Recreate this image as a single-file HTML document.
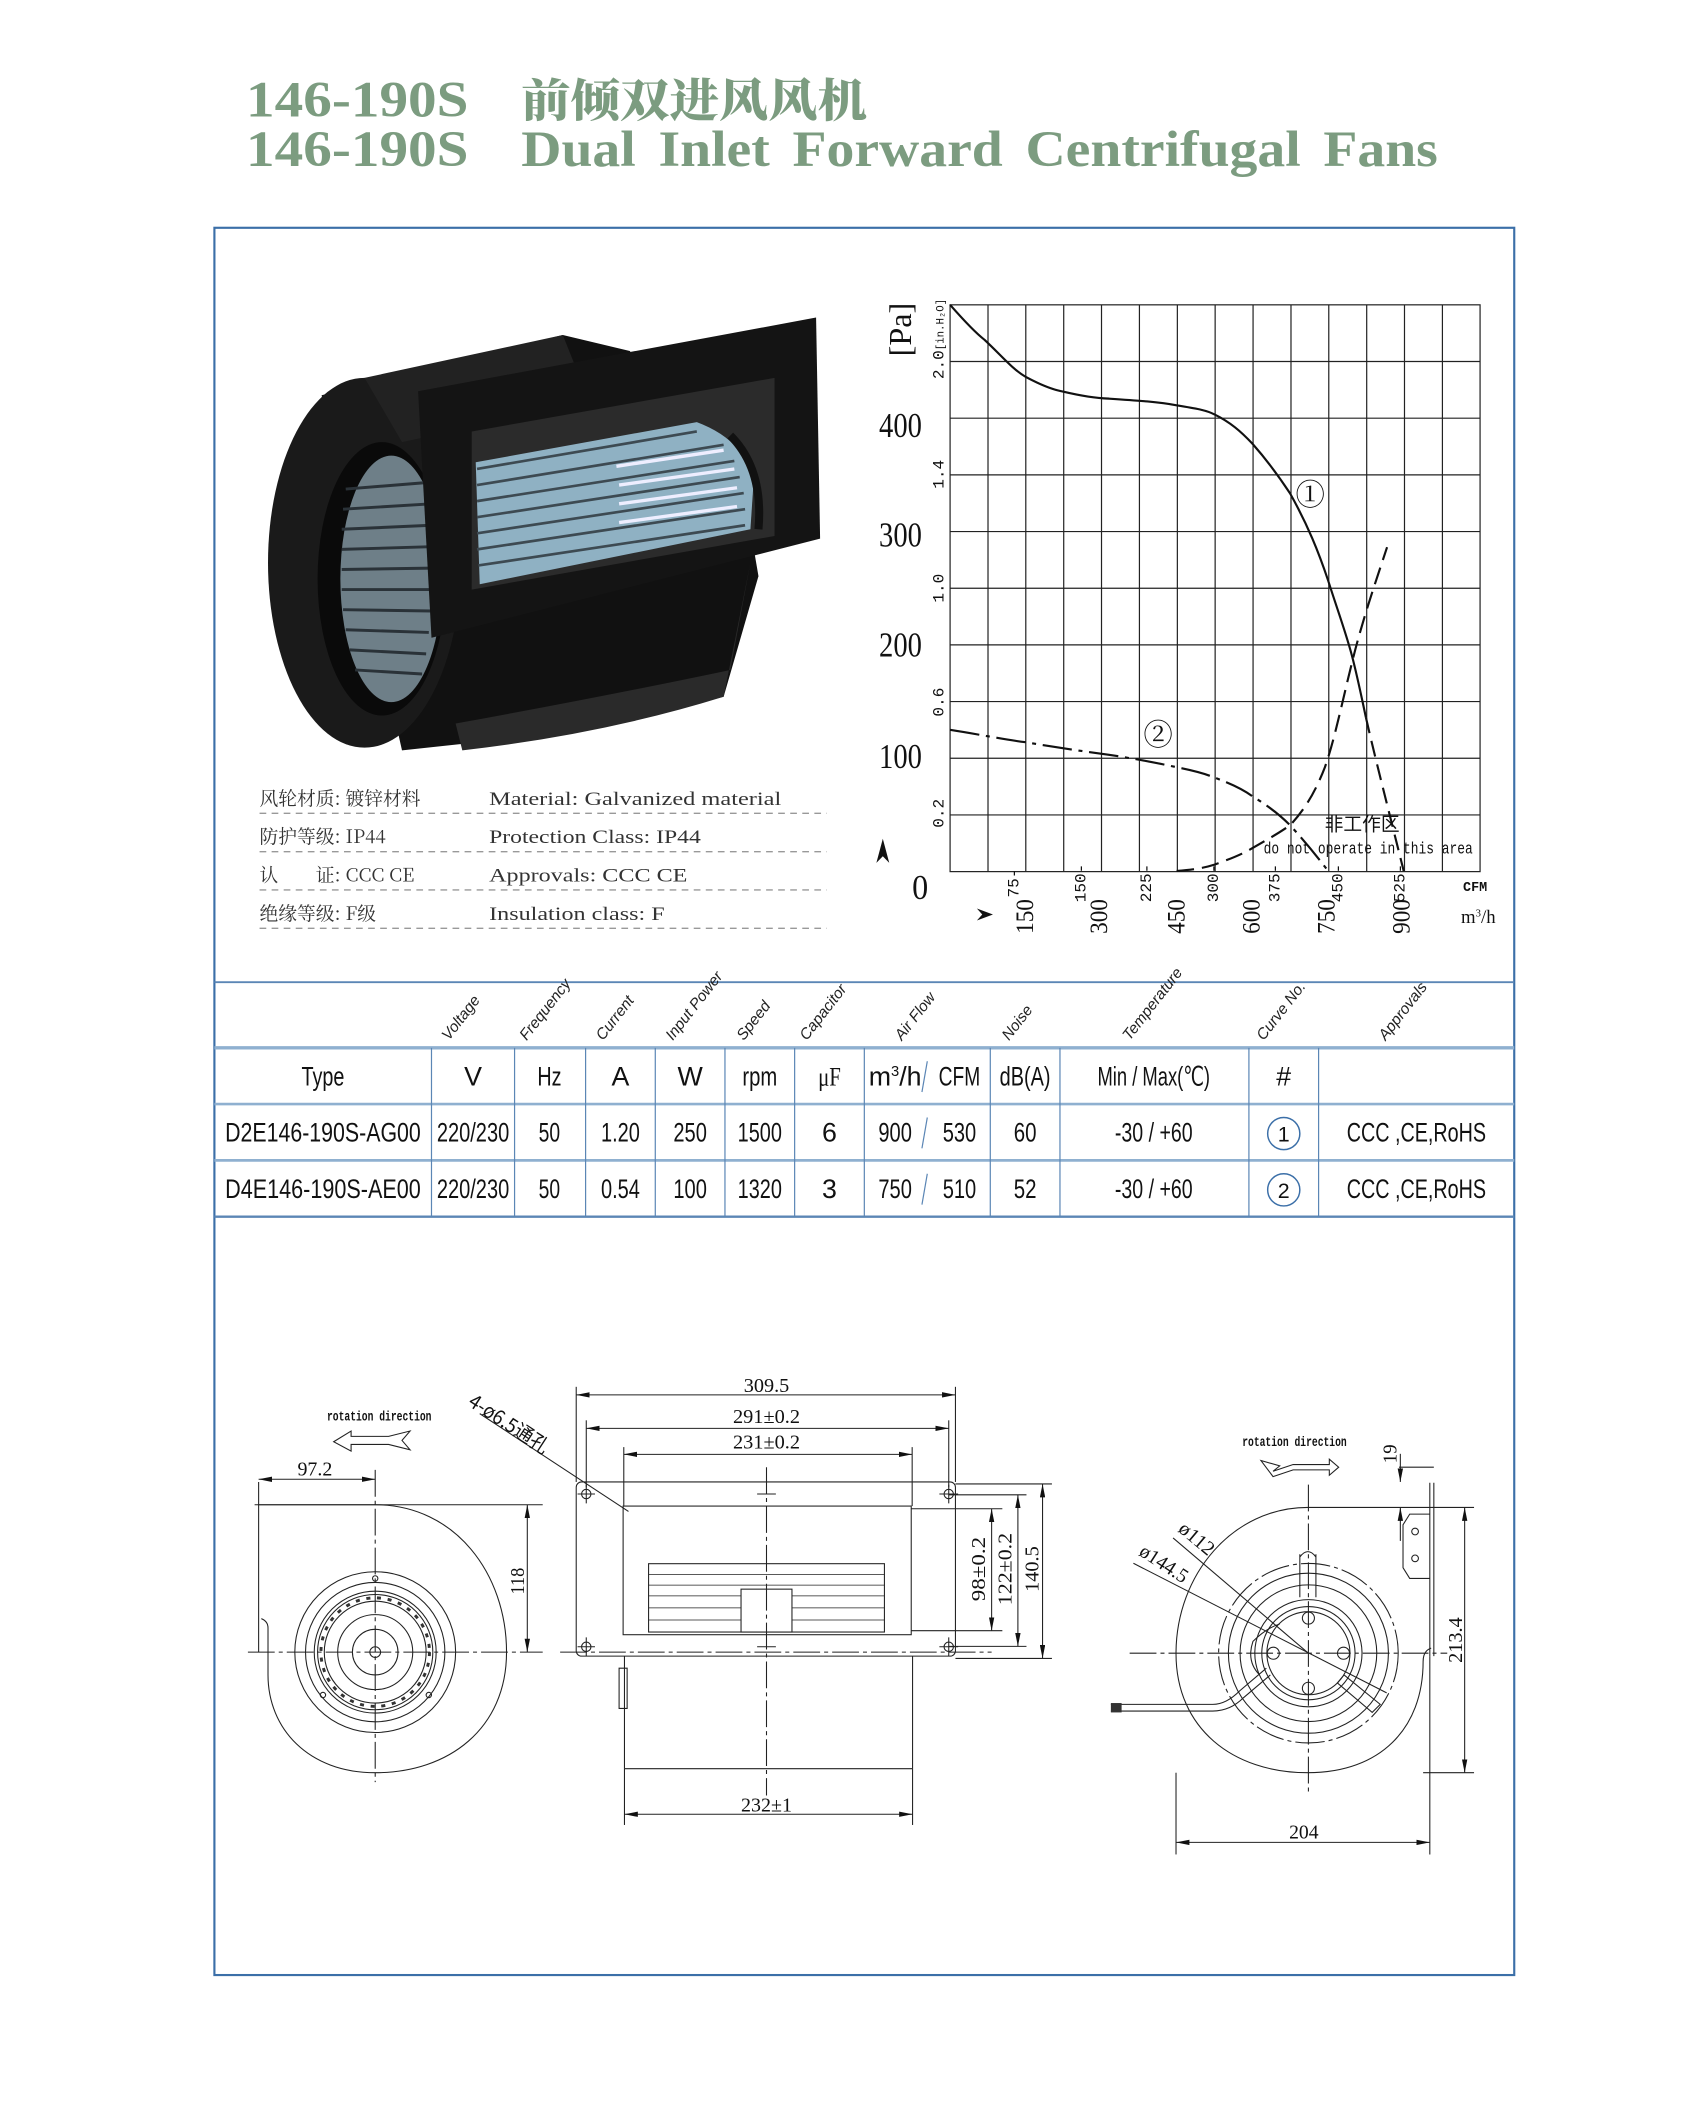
<!DOCTYPE html>
<html><head><meta charset="utf-8"><style>
html,body{margin:0;padding:0;background:#fff;}
svg{display:block;}
.t{font-family:"Liberation Sans Narrow","Liberation Sans",sans-serif;}
.s{font-family:"Liberation Serif","Noto Serif CJK SC",serif;}
.m{font-family:"Liberation Mono","Noto Sans CJK SC",monospace;}
</style></head><body>
<svg width="1693" height="2101" viewBox="0 0 1263.4 1568" preserveAspectRatio="none" xmlns="http://www.w3.org/2000/svg">
<rect x="0" y="0" width="1263.4" height="1568" fill="#fff"/>
<!-- Title -->
<g fill="#7c9c80" font-weight="bold">
<text class="s" x="183.6" y="87" font-size="38" textLength="166" lengthAdjust="spacingAndGlyphs">146-190S</text>
<text x="389" y="87" font-size="34" font-family="'Noto Serif CJK SC','Noto Sans CJK SC',serif" font-weight="900" textLength="258" lengthAdjust="spacingAndGlyphs">前倾双进风风机</text>
<text class="s" x="183.6" y="124" font-size="38" textLength="166" lengthAdjust="spacingAndGlyphs">146-190S</text>
<text class="s" x="389" y="124" font-size="38" textLength="684" lengthAdjust="spacingAndGlyphs" word-spacing="6">Dual  Inlet  Forward  Centrifugal  Fans</text>
</g>
<!-- Frame -->
<rect x="160" y="170" width="970" height="1304" fill="none" stroke="#3b6fa8" stroke-width="1.6"/>

<!-- Photo -->
<g>
<path d="M240,295 L420,250 L470,262 L560,395 L566,430 L540,520 L440,545 L300,560 Z" fill="#111"/>
<ellipse cx="272" cy="420" rx="72" ry="138" fill="#1a1a1a"/>
<path d="M272,282 L420,250 L440,300 L300,330 Z" fill="#222"/>
<path d="M340,540 Q450,520 545,500 L560,420 L540,520 Q450,548 345,560 Z" fill="#2a2a2a"/>
<ellipse cx="285" cy="432" rx="48" ry="102" fill="#0a0a0a"/>
<ellipse cx="292" cy="432" rx="38" ry="92" fill="#6e7f88"/>
<g stroke="#2a3238" stroke-width="2.2">
<line x1="258" y1="365" x2="320" y2="360"/><line x1="256" y1="380" x2="322" y2="376"/><line x1="255" y1="395" x2="322" y2="392"/><line x1="255" y1="410" x2="322" y2="408"/><line x1="255" y1="425" x2="322" y2="424"/><line x1="255" y1="440" x2="322" y2="440"/><line x1="256" y1="455" x2="322" y2="456"/><line x1="258" y1="470" x2="320" y2="472"/><line x1="261" y1="485" x2="318" y2="488"/><line x1="265" y1="500" x2="315" y2="503"/>
</g>
<path d="M312,292 L609,237 L612,402 L322,476 Z" fill="#141414"/>
<path d="M352,322 L578,282 L578,400 L352,440 Z" fill="#2b2b2b"/>
<path d="M355,345 L520,315 Q560,330 562,365 L560,395 L358,436 Z" fill="#8fb1c3"/>
<g stroke="#3d4a52" stroke-width="2">
<line x1="356" y1="350" x2="520" y2="322"/><line x1="356" y1="362" x2="540" y2="332"/><line x1="356" y1="374" x2="548" y2="344"/><line x1="356" y1="386" x2="552" y2="356"/><line x1="356" y1="398" x2="555" y2="368"/><line x1="356" y1="410" x2="556" y2="380"/><line x1="357" y1="422" x2="556" y2="392"/>
</g>
<g stroke="#eef" stroke-width="2.5"><line x1="460" y1="348" x2="540" y2="336"/><line x1="462" y1="362" x2="548" y2="350"/><line x1="462" y1="376" x2="550" y2="364"/><line x1="462" y1="390" x2="550" y2="378"/></g>
<path d="M545,325 Q570,350 566,395" stroke="#111" stroke-width="6" fill="none"/>
</g>

<!-- Specs -->
<g font-size="14" fill="#333">
<text x="193.7" y="600.7" font-family="'Noto Serif CJK SC','Liberation Serif',serif">风轮材质: 镀锌材料</text>
<text class="s" x="365" y="600.7" textLength="218" lengthAdjust="spacingAndGlyphs">Material: Galvanized material</text>
<text x="193.7" y="629.3" font-family="'Noto Serif CJK SC','Liberation Serif',serif">防护等级: IP44</text>
<text class="s" x="365" y="629.3" textLength="158" lengthAdjust="spacingAndGlyphs">Protection Class: IP44</text>
<text x="193.7" y="658" font-family="'Noto Serif CJK SC','Liberation Serif',serif">认　　证: CCC CE</text>
<text class="s" x="365" y="658" textLength="148" lengthAdjust="spacingAndGlyphs">Approvals: CCC  CE</text>
<text x="193.7" y="686.6" font-family="'Noto Serif CJK SC','Liberation Serif',serif">绝缘等级: F级</text>
<text class="s" x="365" y="686.6" textLength="131" lengthAdjust="spacingAndGlyphs">Insulation class: F</text>
</g>
<g stroke="#999" stroke-dasharray="5,4" stroke-width="1">
<line x1="193.7" y1="607" x2="617" y2="607"/><line x1="193.7" y1="635.6" x2="617" y2="635.6"/><line x1="193.7" y1="664.2" x2="617" y2="664.2"/><line x1="193.7" y1="692.8" x2="617" y2="692.8"/>
</g>

<!-- Chart -->
<g stroke="#222" stroke-width="0.9">
<rect x="709" y="227.5" width="395.5" height="423" fill="none"/>
<line x1="737.3" y1="227.5" x2="737.3" y2="650.5"/><line x1="765.5" y1="227.5" x2="765.5" y2="650.5"/><line x1="793.8" y1="227.5" x2="793.8" y2="650.5"/><line x1="822" y1="227.5" x2="822" y2="650.5"/><line x1="850.3" y1="227.5" x2="850.3" y2="650.5"/><line x1="878.6" y1="227.5" x2="878.6" y2="650.5"/><line x1="906.8" y1="227.5" x2="906.8" y2="650.5"/><line x1="935.1" y1="227.5" x2="935.1" y2="650.5"/><line x1="963.4" y1="227.5" x2="963.4" y2="650.5"/><line x1="991.6" y1="227.5" x2="991.6" y2="650.5"/><line x1="1019.9" y1="227.5" x2="1019.9" y2="650.5"/><line x1="1048.1" y1="227.5" x2="1048.1" y2="650.5"/><line x1="1076.4" y1="227.5" x2="1076.4" y2="650.5"/>
<line x1="709" y1="269.8" x2="1104.5" y2="269.8"/><line x1="709" y1="312.1" x2="1104.5" y2="312.1"/><line x1="709" y1="354.4" x2="1104.5" y2="354.4"/><line x1="709" y1="396.7" x2="1104.5" y2="396.7"/><line x1="709" y1="439" x2="1104.5" y2="439"/><line x1="709" y1="481.3" x2="1104.5" y2="481.3"/><line x1="709" y1="523.6" x2="1104.5" y2="523.6"/><line x1="709" y1="565.9" x2="1104.5" y2="565.9"/><line x1="709" y1="608.2" x2="1104.5" y2="608.2"/>
</g>
<g fill="none" stroke="#111" stroke-width="1.6">
<path d="M709,227.5 C720,240 730,250 734.7,253.6 C748,266 756,276 765.7,281.4 C778,288 786,291 793.6,292.3 C805,295 815,297 827.6,297.5 C850,299 865,300 878,302.5 C893,305 900,306 906.3,309.3 C918,315 926,322 934.5,331 C946,344 954,355 962.7,368.2 C976,392 984,412 991.1,433.2 C998,455 1004,471 1008.8,489 C1013,505 1016,520 1019.3,535.4"/>
<path d="M1019.3,535.4 C1024,556 1028,572 1032,588 C1038,612 1043,632 1047.5,650" stroke-dasharray="12,6"/>
<path d="M709,544.7 C730,548 750,552 765.7,554 C790,558 810,561 827.6,563.3 C845,566 862,569 878,572.6 C890,575 898,577 906.3,580.3 C916,584 926,588 934.5,594.2 C944,600 954,607 962.7,615.9 C972,626 982,638 991.1,650" stroke-dasharray="22,5,3,5"/>
<path d="M878,650 C890,649 898,648 906.3,645.3 C918,641 926,638 934.5,633 C945,627 954,622 962.7,615.9 C974,604 982,590 988.7,572.6 C996,552 1002,522 1008.8,495.1 C1016,465 1026,436 1035.1,408.4" stroke-dasharray="13,6"/>
</g>
<g class="s" fill="#111">
<text x="977.8" y="377" font-size="22" text-anchor="middle">①</text>
<text x="864.2" y="556" font-size="22" text-anchor="middle">②</text>
<text x="1016.5" y="620" font-size="14" text-anchor="middle" font-family="'Noto Sans CJK SC',sans-serif">非工作区</text>
<text class="m" x="1021" y="637" font-size="12.5" text-anchor="middle" textLength="156" lengthAdjust="spacingAndGlyphs">do not operate in this area</text>
<g font-size="26" text-anchor="middle">
<text x="672" y="326" textLength="32" lengthAdjust="spacingAndGlyphs">400</text>
<text x="672" y="408" textLength="32" lengthAdjust="spacingAndGlyphs">300</text>
<text x="672" y="490" textLength="32" lengthAdjust="spacingAndGlyphs">200</text>
<text x="672" y="573" textLength="32" lengthAdjust="spacingAndGlyphs">100</text>
<text x="686.7" y="671" textLength="12" lengthAdjust="spacingAndGlyphs">0</text>
</g>
<text transform="translate(680,246) rotate(-90)" font-size="24" text-anchor="middle">[Pa]</text>
<g class="m" font-size="12">
<text transform="translate(704,253) rotate(-90)" text-anchor="middle">2.0<tspan font-size="8">[in.H₂O]</tspan></text>
<text transform="translate(704,354) rotate(-90)" text-anchor="middle">1.4</text>
<text transform="translate(704,439) rotate(-90)" text-anchor="middle">1.0</text>
<text transform="translate(704,524) rotate(-90)" text-anchor="middle">0.6</text>
<text transform="translate(704,607) rotate(-90)" text-anchor="middle">0.2</text>
<text transform="translate(760,659) rotate(-90)" text-anchor="middle">75-</text>
<text transform="translate(810,659) rotate(-90)" text-anchor="middle">150-</text>
<text transform="translate(859,659) rotate(-90)" text-anchor="middle">225-</text>
<text transform="translate(909,659) rotate(-90)" text-anchor="middle">300-</text>
<text transform="translate(955,659) rotate(-90)" text-anchor="middle">375-</text>
<text transform="translate(1002,659) rotate(-90)" text-anchor="middle">450-</text>
<text transform="translate(1048,659) rotate(-90)" text-anchor="middle">525-</text>
</g>
<g font-size="19" class="s">
<text transform="translate(771,684) rotate(-90)" text-anchor="middle" textLength="26" lengthAdjust="spacingAndGlyphs">150</text>
<text transform="translate(826,684) rotate(-90)" text-anchor="middle" textLength="26" lengthAdjust="spacingAndGlyphs">300</text>
<text transform="translate(884,684) rotate(-90)" text-anchor="middle" textLength="26" lengthAdjust="spacingAndGlyphs">450</text>
<text transform="translate(940,684) rotate(-90)" text-anchor="middle" textLength="26" lengthAdjust="spacingAndGlyphs">600</text>
<text transform="translate(996,684) rotate(-90)" text-anchor="middle" textLength="26" lengthAdjust="spacingAndGlyphs">750</text>
<text transform="translate(1052,684) rotate(-90)" text-anchor="middle" textLength="26" lengthAdjust="spacingAndGlyphs">900</text>
</g>
<text class="m" x="1100.8" y="665" font-size="10" text-anchor="middle" font-weight="bold">CFM</text>
<text class="s" x="1103.2" y="689" font-size="14" text-anchor="middle">m<tspan font-size="8" dy="-5">3</tspan><tspan dy="5">/h</tspan></text>
</g>
<path d="M729,678 L741,682.5 L729,687 L733,682.5 Z" fill="#111"/>
<path d="M654,644 L658.8,626 L663.6,644 L658.8,639 Z" fill="#111"/>

<!-- Table -->
<g stroke="#5b86b5" stroke-width="1.4">
<line x1="160" y1="733" x2="1130" y2="733"/>
<line x1="160" y1="782" x2="1130" y2="782" stroke="#8fb0d0" stroke-width="2.5"/>
<line x1="160" y1="824" x2="1130" y2="824" stroke="#8fb0d0" stroke-width="2"/>
<line x1="160" y1="866" x2="1130" y2="866" stroke="#8fb0d0" stroke-width="2"/>
<line x1="160" y1="908" x2="1130" y2="908" stroke-width="1.8"/>
</g>
<g stroke="#5b86b5" stroke-width="0.9">
<line x1="322" y1="782" x2="322" y2="908"/><line x1="384" y1="782" x2="384" y2="908"/><line x1="437" y1="782" x2="437" y2="908"/><line x1="489" y1="782" x2="489" y2="908"/><line x1="541" y1="782" x2="541" y2="908"/><line x1="593" y1="782" x2="593" y2="908"/><line x1="645" y1="782" x2="645" y2="908"/><line x1="739" y1="782" x2="739" y2="908"/><line x1="791" y1="782" x2="791" y2="908"/><line x1="932" y1="782" x2="932" y2="908"/><line x1="984" y1="782" x2="984" y2="908"/>
<line x1="688" y1="815" x2="692" y2="792"/><line x1="688" y1="857" x2="692" y2="834"/><line x1="688" y1="899" x2="692" y2="876"/>
</g>
<g class="t" font-size="11.5" font-style="italic" fill="#222">
<text transform="translate(335,777) rotate(-52)">Voltage</text>
<text transform="translate(393,777) rotate(-52)">Frequency</text>
<text transform="translate(450,777) rotate(-52)">Current</text>
<text transform="translate(502,777) rotate(-52)">Input Power</text>
<text transform="translate(555,777) rotate(-52)">Speed</text>
<text transform="translate(602,777) rotate(-52)">Capacitor</text>
<text transform="translate(673,777) rotate(-52)">Air Flow</text>
<text transform="translate(753,777) rotate(-52)">Noise</text>
<text transform="translate(843,777) rotate(-52)">Temperature</text>
<text transform="translate(943,777) rotate(-52)">Curve No.</text>
<text transform="translate(1034,777) rotate(-52)">Approvals</text>
</g>
<g class="t" font-size="20" fill="#111" text-anchor="middle">
<text x="241" y="810" textLength="32" lengthAdjust="spacingAndGlyphs">Type</text><text x="353" y="810">V</text><text x="410" y="810" textLength="18" lengthAdjust="spacingAndGlyphs">Hz</text><text x="463" y="810">A</text><text x="515" y="810">W</text><text x="567" y="810" textLength="26" lengthAdjust="spacingAndGlyphs">rpm</text><text x="619" y="810" font-family="'Liberation Serif',serif" textLength="17" lengthAdjust="spacingAndGlyphs">μF</text>
<text x="668" y="810">m<tspan font-size="11" dy="-7">3</tspan><tspan dy="7">/h</tspan></text><text x="716" y="810" textLength="31" lengthAdjust="spacingAndGlyphs">CFM</text><text x="765" y="810" textLength="38" lengthAdjust="spacingAndGlyphs">dB(A)</text><text x="861" y="810" textLength="84" lengthAdjust="spacingAndGlyphs">Min / Max(℃)</text><text x="958" y="810">#</text>
<text x="241" y="852" textLength="146" lengthAdjust="spacingAndGlyphs">D2E146-190S-AG00</text><text x="353" y="852" textLength="54" lengthAdjust="spacingAndGlyphs">220/230</text><text x="410" y="852" textLength="16" lengthAdjust="spacingAndGlyphs">50</text><text x="463" y="852" textLength="29" lengthAdjust="spacingAndGlyphs">1.20</text><text x="515" y="852" textLength="25" lengthAdjust="spacingAndGlyphs">250</text><text x="567" y="852" textLength="33" lengthAdjust="spacingAndGlyphs">1500</text><text x="619" y="852">6</text><text x="668" y="852" textLength="25" lengthAdjust="spacingAndGlyphs">900</text><text x="716" y="852" textLength="25" lengthAdjust="spacingAndGlyphs">530</text><text x="765" y="852" textLength="17" lengthAdjust="spacingAndGlyphs">60</text><text x="861" y="852" textLength="58" lengthAdjust="spacingAndGlyphs">-30 / +60</text><text x="958" y="852" font-size="16">1</text><text x="1057" y="852" textLength="104" lengthAdjust="spacingAndGlyphs">CCC ,CE,RoHS</text>
<text x="241" y="894" textLength="146" lengthAdjust="spacingAndGlyphs">D4E146-190S-AE00</text><text x="353" y="894" textLength="54" lengthAdjust="spacingAndGlyphs">220/230</text><text x="410" y="894" textLength="16" lengthAdjust="spacingAndGlyphs">50</text><text x="463" y="894" textLength="29" lengthAdjust="spacingAndGlyphs">0.54</text><text x="515" y="894" textLength="25" lengthAdjust="spacingAndGlyphs">100</text><text x="567" y="894" textLength="33" lengthAdjust="spacingAndGlyphs">1320</text><text x="619" y="894">3</text><text x="668" y="894" textLength="25" lengthAdjust="spacingAndGlyphs">750</text><text x="716" y="894" textLength="25" lengthAdjust="spacingAndGlyphs">510</text><text x="765" y="894" textLength="17" lengthAdjust="spacingAndGlyphs">52</text><text x="861" y="894" textLength="58" lengthAdjust="spacingAndGlyphs">-30 / +60</text><text x="958" y="894" font-size="16">2</text><text x="1057" y="894" textLength="104" lengthAdjust="spacingAndGlyphs">CCC ,CE,RoHS</text>
</g>
<circle cx="958" cy="846" r="12" fill="none" stroke="#3b6fa8" stroke-width="1.1"/>
<circle cx="958" cy="888" r="12" fill="none" stroke="#3b6fa8" stroke-width="1.1"/>

<!-- Drawings -->
<defs>
<marker id="a" viewBox="0 0 10 4" refX="10" refY="2" markerWidth="10" markerHeight="4" orient="auto-start-reverse" markerUnits="userSpaceOnUse"><path d="M0,0 L10,2 L0,4 Z" fill="#111"/></marker>
</defs>
<g fill="none" stroke="#222" stroke-width="0.8">
<path d="M193,1106 V1233"/>
<path d="M193,1123 H280 C340,1123 378,1175 378,1233 C378,1290 335,1323 280,1323 C230,1323 200,1290 200,1250 V1215 Q200,1210 195,1208"/>
<line x1="190" y1="1123" x2="405" y2="1123"/>
<line x1="280" y1="1097" x2="280" y2="1330" stroke-dasharray="20,3,3,3"/>
<line x1="185" y1="1233" x2="405" y2="1233" stroke-dasharray="20,3,3,3"/>
<circle cx="280" cy="1233" r="60"/><circle cx="280" cy="1233" r="52"/><circle cx="280" cy="1233" r="45.5"/><circle cx="280" cy="1233" r="43"/><circle cx="280" cy="1233" r="38"/><circle cx="280" cy="1233" r="28"/><circle cx="280" cy="1233" r="17"/><circle cx="280" cy="1233" r="4"/>
<circle cx="280" cy="1178" r="2"/><circle cx="241" cy="1265" r="2"/><circle cx="320" cy="1265" r="2"/>
<g stroke-width="2.2" stroke="#333"><circle cx="280" cy="1233" r="40.5" stroke-dasharray="3,5"/></g>
<line x1="193" y1="1104" x2="280" y2="1104" marker-start="url(#a)" marker-end="url(#a)"/>
<line x1="393.5" y1="1123" x2="393.5" y2="1233" marker-start="url(#a)" marker-end="url(#a)"/>
<path d="M249,1076 L262,1068 V1072 H290 L306,1068 L300,1075 L306,1082 L290,1078 H262 V1083 Z"/>
<rect x="430" y="1106" width="283" height="130" rx="4"/>
<rect x="465" y="1124" width="215" height="96"/>
<rect x="484" y="1167" width="176" height="51"/>
<g stroke-width="0.6"><line x1="484" y1="1175" x2="660" y2="1175"/><line x1="484" y1="1183" x2="660" y2="1183"/><line x1="484" y1="1191" x2="660" y2="1191"/><line x1="484" y1="1200" x2="660" y2="1200"/><line x1="484" y1="1209" x2="660" y2="1209"/></g>
<rect x="553" y="1186" width="38" height="32" fill="#fff"/>
<line x1="466" y1="1236" x2="466" y2="1320"/><line x1="681" y1="1236" x2="681" y2="1320"/><line x1="466" y1="1320" x2="681" y2="1320"/>
<line x1="572" y1="1095" x2="572" y2="1340" stroke-dasharray="20,3,3,3"/>
<line x1="418" y1="1233" x2="740" y2="1233" stroke-dasharray="20,3,3,3"/>
<circle cx="437.5" cy="1115" r="3.5"/><circle cx="708" cy="1115" r="3.5"/><circle cx="437.5" cy="1229" r="3.5"/><circle cx="708" cy="1229" r="3.5"/>
<path d="M431,1115 h13 M437.5,1108 v14 M701,1115 h14 M708,1108 v14 M431,1229 h13 M437.5,1222 v14 M701,1229 h14 M708,1222 v14 M565,1115 h14 M565,1229 h14"/>
<line x1="430" y1="1035" x2="430" y2="1106"/><line x1="713" y1="1035" x2="713" y2="1106"/>
<line x1="437.5" y1="1060" x2="437.5" y2="1110"/><line x1="708" y1="1060" x2="708" y2="1110"/>
<line x1="465.5" y1="1080" x2="465.5" y2="1124"/><line x1="680.7" y1="1080" x2="680.7" y2="1124"/>
<line x1="430" y1="1041" x2="713" y2="1041" marker-start="url(#a)" marker-end="url(#a)"/>
<line x1="437.5" y1="1066" x2="708" y2="1066" marker-start="url(#a)" marker-end="url(#a)"/>
<line x1="465.5" y1="1085.4" x2="680.7" y2="1085.4" marker-start="url(#a)" marker-end="url(#a)"/>
<line x1="466" y1="1320" x2="466" y2="1362"/><line x1="681" y1="1320" x2="681" y2="1362"/>
<line x1="466" y1="1354" x2="681" y2="1354" marker-start="url(#a)" marker-end="url(#a)"/>
<line x1="358" y1="1055" x2="469" y2="1128"/>
<path d="M462,1245 v30 h6 v-30 Z"/>
<line x1="713" y1="1107.5" x2="785" y2="1107.5"/><line x1="713" y1="1237.7" x2="785" y2="1237.7"/>
<line x1="708" y1="1115.6" x2="766" y2="1115.6"/><line x1="708" y1="1228.7" x2="766" y2="1228.7"/>
<line x1="680" y1="1126" x2="748" y2="1126"/><line x1="680" y1="1217" x2="748" y2="1217"/>
<line x1="778" y1="1107.5" x2="778" y2="1237.7" marker-start="url(#a)" marker-end="url(#a)"/>
<line x1="759.6" y1="1115.6" x2="759.6" y2="1228.7" marker-start="url(#a)" marker-end="url(#a)"/>
<line x1="740" y1="1126" x2="740" y2="1217" marker-start="url(#a)" marker-end="url(#a)"/>
<path d="M1067,1125 H976 C920,1125 877.6,1175 877.6,1234 C877.6,1290 920,1323 976,1323 C1030,1323 1062,1290 1062,1240 Q1062,1232 1068,1230"/>
<line x1="1067" y1="1106.6" x2="1067" y2="1236"/><line x1="1070" y1="1106.6" x2="1070" y2="1236"/>
<path d="M1067,1130 H1052 L1047,1138 V1170 L1052,1178 H1067"/>
<circle cx="1056" cy="1143" r="2.5"/><circle cx="1056" cy="1163" r="2.5"/>
<line x1="976.4" y1="1108" x2="976.4" y2="1340" stroke-dasharray="20,3,3,3"/>
<line x1="843" y1="1233.8" x2="1080" y2="1233.8" stroke-dasharray="20,3,3,3"/>
<circle cx="976.4" cy="1233.8" r="67" stroke-dasharray="22,3,3,3"/><circle cx="976.4" cy="1233.8" r="59.7"/><circle cx="976.4" cy="1233.8" r="51"/><circle cx="976.4" cy="1233.8" r="40"/><circle cx="976.4" cy="1233.8" r="34.8"/><circle cx="976.4" cy="1233.8" r="31"/>
<circle cx="976.4" cy="1207.6" r="4.5"/><circle cx="976.4" cy="1260" r="4.5"/><circle cx="950.2" cy="1233.8" r="4.5"/><circle cx="1002.6" cy="1233.8" r="4.5"/>
<path d="M970,1160 V1192 M982,1160 V1192 M970,1162 Q976,1154 982,1162"/>
<path d="M1003,1250 L1030,1272 L1024,1278 L998,1256 Z"/>
<path d="M829,1272 H905 Q915,1272 925,1262 L945,1245 M829,1277 H905 Q918,1277 928,1267 L948,1250"/>
<path d="M940,1250 Q930,1240 935,1225 Q945,1215 955,1212"/>
<line x1="875.4" y1="1147.8" x2="976.4" y2="1233.8"/>
<line x1="845.8" y1="1166.7" x2="1034.8" y2="1263.4"/>
<line x1="1044" y1="1095" x2="1070" y2="1095"/>
<line x1="1067" y1="1125" x2="1100" y2="1125"/><line x1="1062" y1="1323" x2="1100" y2="1323"/>
<line x1="1093" y1="1125" x2="1093" y2="1323" marker-start="url(#a)" marker-end="url(#a)"/>
<line x1="1045" y1="1085" x2="1045" y2="1106" marker-end="url(#a)"/>
<line x1="1045" y1="1150" x2="1045" y2="1125" marker-end="url(#a)"/>
<line x1="877.6" y1="1323" x2="877.6" y2="1384"/><line x1="1067" y1="1236" x2="1067" y2="1384"/>
<line x1="877.6" y1="1375" x2="1067" y2="1375" marker-start="url(#a)" marker-end="url(#a)"/>
<path d="M941,1090 L955,1094 L950,1098 L965,1093 H992 V1089 L999,1095 L992,1101 V1097 H965 L950,1102 Z"/>
</g>
<rect x="829" y="1271" width="8" height="7" fill="#333"/>
<g class="s" fill="#111" font-size="15" text-anchor="middle">
<text x="235" y="1101" textLength="26" lengthAdjust="spacingAndGlyphs">97.2</text>
<text transform="translate(391,1180) rotate(-90)" textLength="20" lengthAdjust="spacingAndGlyphs">118</text>
<text x="572" y="1039" textLength="34" lengthAdjust="spacingAndGlyphs">309.5</text>
<text x="572" y="1062" textLength="50" lengthAdjust="spacingAndGlyphs">291±0.2</text>
<text x="572" y="1081" textLength="50" lengthAdjust="spacingAndGlyphs">231±0.2</text>
<text x="572" y="1352" textLength="38" lengthAdjust="spacingAndGlyphs">232±1</text>
<text transform="translate(735,1171) rotate(-90)" textLength="48" lengthAdjust="spacingAndGlyphs">98±0.2</text>
<text transform="translate(755,1171) rotate(-90)" textLength="54" lengthAdjust="spacingAndGlyphs">122±0.2</text>
<text transform="translate(775,1171) rotate(-90)" textLength="34" lengthAdjust="spacingAndGlyphs">140.5</text>
<text transform="translate(1091,1224) rotate(-90)" textLength="34" lengthAdjust="spacingAndGlyphs">213.4</text>
<text transform="translate(1042,1085) rotate(-90)" textLength="14" lengthAdjust="spacingAndGlyphs">19</text>
<text x="973" y="1372" textLength="22" lengthAdjust="spacingAndGlyphs">204</text>
<text transform="translate(890,1152) rotate(40)" textLength="30" lengthAdjust="spacingAndGlyphs">ø112</text>
<text transform="translate(866,1171) rotate(33)" textLength="40" lengthAdjust="spacingAndGlyphs">ø144.5</text>
<text transform="translate(377,1067) rotate(33)" font-family="'Noto Sans CJK SC',serif" textLength="68" lengthAdjust="spacingAndGlyphs">4-ø6.5通孔</text>
<text class="m" x="283" y="1060" font-size="10" font-weight="bold" textLength="78" lengthAdjust="spacingAndGlyphs">rotation direction</text>
<text class="m" x="966" y="1079" font-size="10" font-weight="bold" textLength="78" lengthAdjust="spacingAndGlyphs">rotation direction</text>
</g>
</svg>
</body></html>
